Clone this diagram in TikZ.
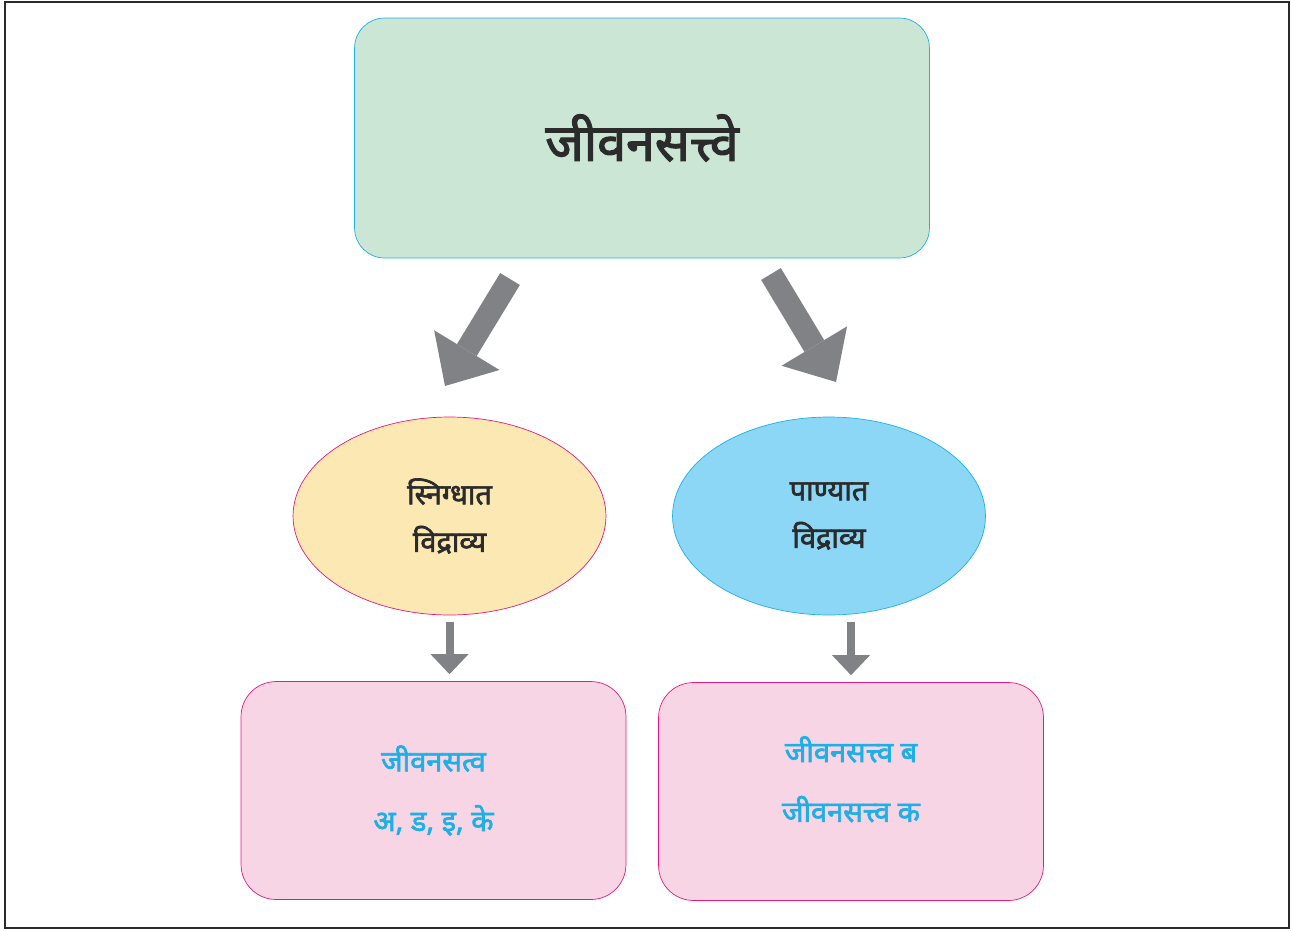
\documentclass[tikz,border=0pt]{standalone}
\usepackage{fontspec}
\newfontfamily\deva[Script=Devanagari, FakeBold=2.2]{Noto Sans}
\usepackage{xcolor}
\usetikzlibrary{shapes,arrows.meta,positioning,calc}

\definecolor{mintfill}{HTML}{CCE6D6}
\definecolor{skyline}{HTML}{1CB0E6}
\definecolor{creamfill}{HTML}{FCE8B2}
\definecolor{bluefill}{HTML}{8DD7F6}
\definecolor{pinkline}{HTML}{E5197E}
\definecolor{pinkfill}{HTML}{F8D5E5}
\definecolor{arrowgray}{HTML}{808285}
\definecolor{framegray}{HTML}{2B2B2B}

\tikzset{
    bigarrow/.style={arrowgray, line width=0.46cm, -{Triangle[width=1.53cm, length=0.84cm, line width=0pt]}},
    smallarrow/.style={arrowgray, line width=0.16cm, -{Triangle[width=0.76cm, length=0.4cm, line width=0pt]}, shorten <=0.14cm, shorten >=0.14cm},
    blob/.style={ellipse, draw, minimum width=6.26cm, minimum height=3.96cm, align=center, text=framegray, font=\deva\fontsize{16.5}{27}\selectfont},
    listbox/.style={draw=pinkline, fill=pinkfill, rectangle, rounded corners=0.7cm, minimum width=7.7cm, minimum height=4.36cm, align=center, text=skyline, font=\deva\fontsize{16.5}{34}\selectfont}
}

\begin{document}
\begin{tikzpicture}[x=0.02cm, y=-0.02cm]
    \useasboundingbox (0,0) rectangle (1291,930);
    \draw[framegray, line width=0.04cm] (5,2) rectangle (1289,928);

    \node (vit) [draw=skyline, fill=mintfill, rectangle, rounded corners=0.6cm, minimum width=11.5cm, minimum height=4.8cm, text=framegray, font=\deva\fontsize{29.5}{32}\selectfont] at (642,138) {जीवनसत्त्वे};

    \node (fat) [blob, draw=pinkline, fill=creamfill] at (449.5,516) {स्निग्धात\\विद्राव्य};
    \node (water) [blob, draw=skyline, fill=bluefill] at (829,516) {पाण्यात\\विद्राव्य};

    \node (fatlist) [listbox] at (433.5,790.5) {जीवनसत्व\\अ, ड, इ, के};
    \node (waterlist) [listbox, text depth=0.5cm] at (851,791.5) {जीवनसत्त्व ब\\जीवनसत्त्व क};

    % big arrows under the title box
    \coordinate (fattail) at (510,279);
    \coordinate (fattip) at (445,386);
    \coordinate (watertail) at (771,274);
    \coordinate (watertip) at (836,382);
    \draw[bigarrow] (fattail) -- (fattip);
    \draw[bigarrow] (watertail) -- (watertip);

    \draw[smallarrow] (fat.south) -- (fat.south |- fatlist.north);
    \draw[smallarrow] (waterlist.north |- water.south) -- (waterlist.north);
\end{tikzpicture}
\end{document}
